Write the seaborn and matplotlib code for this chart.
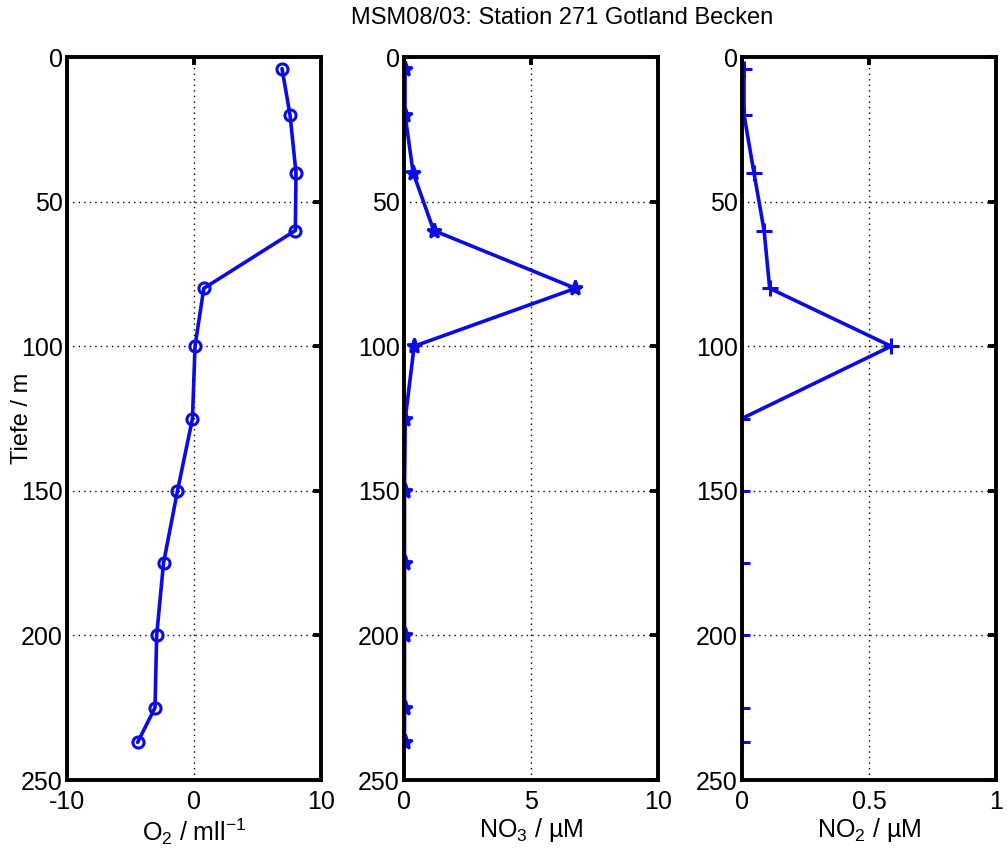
import matplotlib
matplotlib.use("Agg")
import matplotlib.pyplot as plt
import seaborn as sns
import numpy as np

depth = [4, 20, 40, 60, 80, 100, 125, 150, 175, 200, 225, 237]
o2 = [6.93, 7.56, 8.03, 7.98, 0.77, 0.08, -0.12, -1.3, -2.4, -2.94, -3.07, -4.44]
no3 = [0.04, 0.04, 0.36, 1.17, 6.75, 0.40, 0.05, 0.02, 0.02, 0.02, 0.02, 0.02]
no2 = [0.008, 0.008, 0.047, 0.087, 0.109, 0.587, 0.0, 0.0, 0.0, 0.0, 0.0, 0.0]

title = "MSM08/03: Station 271 Gotland Becken"
xlabels = ["O$_2$ / mll$^{-1}$", "NO$_3$ / µM", "NO$_2$ / µM"]
xlims = [(-10, 10), (0, 10), (0, 1)]
xticks = [[-10, 0, 10], [0, 5, 10], [0, 0.5, 1]]
xticklabels = [["-10", "0", "10"], ["0", "5", "10"], ["0", "0.5", "1"]]
yticks = [0, 50, 100, 150, 200, 250]

sns.set_theme(style="white")
plt.rcParams['font.family'] = ['Liberation Sans', 'DejaVu Sans']
plt.rcParams['mathtext.fontset'] = 'custom'
plt.rcParams['mathtext.rm'] = 'Liberation Sans'
plt.rcParams['mathtext.it'] = 'Liberation Sans'

W, H = 1007, 856
fig = plt.figure(figsize=(W / 100, H / 100), dpi=100)
lefts = [67, 404, 742]
aw = 254
top, bottom = 57, 780

color = "#0b0be6"
series = [o2, no3, no2]
markers = ["o", "*", "+"]

for i in range(3):
    ax = fig.add_axes([lefts[i] / W, 1 - bottom / H, aw / W, (bottom - top) / H])
    kw = dict(color=color, linewidth=2.6, sort=False, estimator=None, ax=ax)
    if markers[i] == "o":
        sns.lineplot(x=series[i], y=depth, marker="o", markersize=8,
                     markerfacecolor="none", markeredgecolor=color,
                     markeredgewidth=2.2, **kw)
    elif markers[i] == "*":
        sns.lineplot(x=series[i], y=depth, marker="*", markersize=11,
                     markerfacecolor=color, markeredgecolor=color,
                     markeredgewidth=2.0, **kw)
    else:
        sns.lineplot(x=series[i], y=depth, marker="+", markersize=11,
                     markeredgecolor=color, markeredgewidth=2.2, **kw)
    ax.set_xlim(*xlims[i])
    ax.set_ylim(250, 0)
    ax.set_xticks(xticks[i])
    ax.set_xticklabels(xticklabels[i])
    ax.set_yticks(yticks)
    ax.set_yticklabels([str(v) for v in yticks])
    ax.grid(True, color="black", linestyle=(0, (1, 3)), linewidth=1.0)
    for sp in ax.spines.values():
        sp.set_visible(True)
        sp.set_color("black")
        sp.set_linewidth(2.8)
    ax.tick_params(direction="in", length=6, width=2.8, top=True, right=True,
                   labelsize=18, colors="black", pad=3)
    ax.tick_params(axis="x", pad=7)
    ax.set_xlabel(xlabels[i], fontsize=18, color="black", labelpad=2)
    if i == 0:
        ax.set_ylabel("Tiefe / m", fontsize=17, color="black")
        ax.yaxis.set_label_coords((22 - 67) / aw, 0.5)
        ax.yaxis.label.set_va("center")
    else:
        ax.set_ylabel("")
    ax.set_facecolor("white")

fig.text(562 / W, 1 - 18 / H, title, ha="center", va="center", fontsize=17, color="black")
fig.savefig("out.png", dpi=100, facecolor="white")
